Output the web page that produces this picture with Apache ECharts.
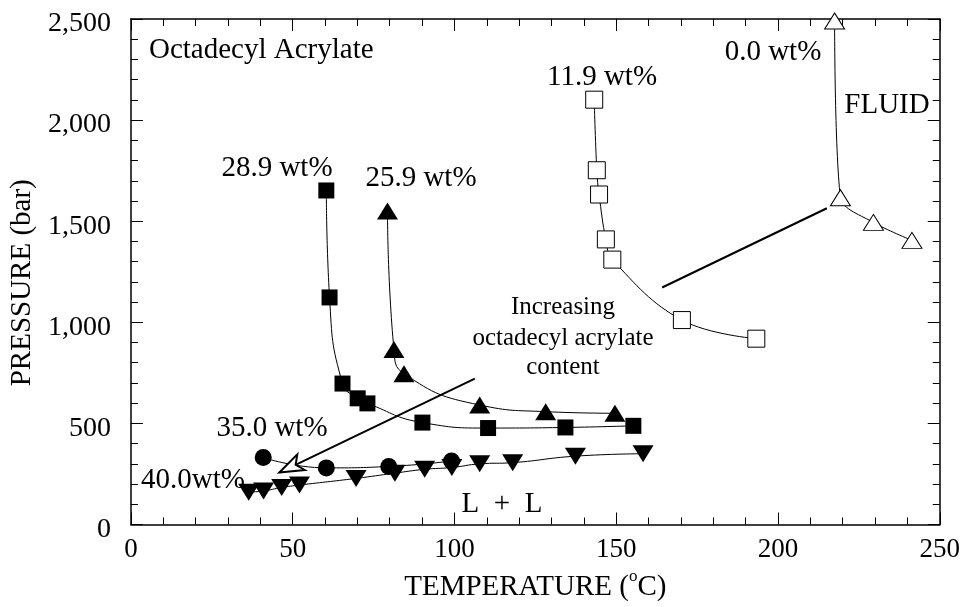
<!DOCTYPE html>
<html>
<head>
<meta charset="utf-8">
<script src="https://cdn.jsdelivr.net/npm/echarts@6/dist/echarts.min.js"></script>
<style>
html,body{margin:0;padding:0;background:#fff;}
#chart{width:963px;height:607px;}
</style>
</head>
<body>
<div id="chart"></div>
<script>
// ---- axis ranges / ticks ----
var xMin = 0, xMax = 250, xStep = 50;
var yMin = 0, yMax = 2500, yStep = 500;

// ---- data (temperature °C, pressure bar) ----
var s00  = [[217.5, 2490], [219.3, 1616], [229.5, 1494], [241.4, 1405]];
var s119 = [[143.2, 2101], [144.0, 1752], [144.7, 1632], [146.8, 1410], [148.8, 1310], [170.3, 1011], [193.3, 919]];
var s259 = [[79.3, 1551], [81.3, 865], [84.4, 746], [107.8, 591], [128.2, 558], [149.6, 550]];
var s289 = [[60.4, 1652], [61.4, 1123], [65.4, 697], [70.1, 624], [73.1, 599], [90.1, 504], [110.4, 477], [134.3, 480], [155.3, 488]];
var s350 = [[40.9, 331], [60.4, 280], [79.7, 287], [99.1, 314]];
var s400 = [[36.4, 160], [41.0, 166], [46.6, 183], [52.1, 195], [69.6, 228], [81.6, 254], [90.8, 273], [99.2, 282], [107.8, 300], [118.0, 306], [137.4, 338], [158.3, 350]];
var sepLine = [[164.2, 1172], [215.1, 1564]];
var arrowFrom = [106.3, 721], arrowTo = [45.9, 257];

var FONT = 'Liberation Serif';
var chart = echarts.init(document.getElementById('chart'), null, {renderer: 'canvas'});

function axisCommon() {
  return {
    axisLine: {show: true, onZero: false, lineStyle: {color: '#000', width: 1.5}},
    axisTick: {show: true, inside: true, length: 12, lineStyle: {color: '#000', width: 1}},
    minorTick: {show: true, splitNumber: 5, length: 7, lineStyle: {color: '#000', width: 1}},
    splitLine: {show: false},
    minorSplitLine: {show: false}
  };
}

var xBase = axisCommon();
var yBase = axisCommon();

function mk(name, data, symbol, size, filled, extra) {
  var o = {
    name: name, type: 'line', data: data, smooth: 0.5,
    symbol: symbol, symbolSize: size,
    lineStyle: {color: '#000', width: 1},
    itemStyle: filled ? {color: '#000', borderColor: '#000', borderWidth: 0}
                      : {color: '#fff', borderColor: '#000', borderWidth: 1},
    emphasis: {disabled: true},
    z: 3
  };
  if (extra) for (var k in extra) o[k] = extra[k];
  return o;
}

var option = {
  animation: false,
  backgroundColor: '#fff',
  grid: {left: 129, right: 17, top: 19, bottom: 76, containLabel: false},
  xAxis: [
    Object.assign({}, xBase, {
      type: 'value', min: xMin, max: xMax, interval: xStep, position: 'bottom',
      axisLabel: {show: true, color: '#000', fontFamily: FONT, fontSize: 27, margin: 12},
      name: '{a|TEMPERATURE (}{s|o}{a|C)}', nameLocation: 'middle', nameGap: 44,
      nameTextStyle: {rich: {
        a: {fontFamily: FONT, fontSize: 29, color: '#000', lineHeight: 38},
        s: {fontFamily: FONT, fontSize: 17, color: '#000', lineHeight: 17, verticalAlign: 'top'}
      }}
    }),
    Object.assign({}, xBase, {
      type: 'value', min: xMin, max: xMax, interval: xStep, position: 'top',
      axisLabel: {show: false}
    })
  ],
  yAxis: [
    Object.assign({}, yBase, {
      type: 'value', min: yMin, max: yMax, interval: yStep, position: 'left',
      axisLabel: {show: true, color: '#000', fontFamily: FONT, fontSize: 28, margin: 20,
        verticalAlign: 'top', lineHeight: 10,
        formatter: function (v) { return v.toLocaleString('en-US'); }},
      name: 'PRESSURE (bar)', nameLocation: 'middle', nameGap: 87, nameRotate: 90,
      nameTextStyle: {fontFamily: FONT, fontSize: 29, color: '#000', padding: [0, 22, 0, 0]}
    }),
    Object.assign({}, yBase, {
      type: 'value', min: yMin, max: yMax, interval: yStep, position: 'right',
      axisLabel: {show: false}
    })
  ],
  series: [
    mk('0.0 wt%', s00, 'triangle', [20, 16], false, {smooth: 0.3}),
    mk('11.9 wt%', s119, 'rect', [17, 17], false, {smooth: 0.4}),
    mk('25.9 wt%', s259, 'triangle', [21, 17], true),
    mk('28.9 wt%', s289, 'rect', [16, 16], true),
    mk('35.0 wt%', s350, 'circle', 17, true),
    mk('40.0 wt%', s400, 'triangle', [21, 17], true, {symbolRotate: 180}),
    {
      name: 'sep', type: 'line', data: sepLine, symbol: 'none',
      lineStyle: {color: '#000', width: 2}, z: 2
    },
    {
      name: 'arrow', type: 'line', data: [], symbol: 'none',
      markLine: {
        silent: true, animation: false,
        symbol: ['none', 'emptyArrow'], symbolSize: [13, 24],
        lineStyle: {color: '#000', width: 2, type: 'solid'},
        label: {show: false},
        emphasis: {disabled: true},
        data: [[{coord: arrowFrom}, {coord: arrowTo}]]
      }
    }
  ],
  graphic: [
    {type: 'text', x: 149, y: 50, style: {text: 'Octadecyl Acrylate', font: '29px "Liberation Serif"', fill: '#000', verticalAlign: 'middle'}},
    {type: 'text', x: 277, y: 168, style: {text: '28.9 wt%', font: '29px "Liberation Serif"', fill: '#000', align: 'center', verticalAlign: 'middle'}},
    {type: 'text', x: 421, y: 178, style: {text: '25.9 wt%', font: '29px "Liberation Serif"', fill: '#000', align: 'center', verticalAlign: 'middle'}},
    {type: 'text', x: 602, y: 77, style: {text: '11.9 wt%', font: '29px "Liberation Serif"', fill: '#000', align: 'center', verticalAlign: 'middle'}},
    {type: 'text', x: 773, y: 52, style: {text: '0.0 wt%', font: '29px "Liberation Serif"', fill: '#000', align: 'center', verticalAlign: 'middle'}},
    {type: 'text', x: 887, y: 105, style: {text: 'FLUID', font: '29px "Liberation Serif"', fill: '#000', align: 'center', verticalAlign: 'middle'}},
    {type: 'text', x: 272, y: 428, style: {text: '35.0 wt%', font: '29px "Liberation Serif"', fill: '#000', align: 'center', verticalAlign: 'middle'}},
    {type: 'text', x: 193, y: 480, style: {text: '40.0wt%', font: '29px "Liberation Serif"', fill: '#000', align: 'center', verticalAlign: 'middle'}},
    {type: 'text', x: 502, y: 504, style: {text: 'L  +  L', font: '29px "Liberation Serif"', fill: '#000', align: 'center', verticalAlign: 'middle'}},
    {type: 'text', x: 563, y: 307, style: {text: 'Increasing', font: '25px "Liberation Serif"', fill: '#000', align: 'center', verticalAlign: 'middle'}},
    {type: 'text', x: 563, y: 338, style: {text: 'octadecyl acrylate', font: '25px "Liberation Serif"', fill: '#000', align: 'center', verticalAlign: 'middle'}},
    {type: 'text', x: 563, y: 367, style: {text: 'content', font: '25px "Liberation Serif"', fill: '#000', align: 'center', verticalAlign: 'middle'}}
  ]
};
chart.setOption(option);
</script>
</body>
</html>
